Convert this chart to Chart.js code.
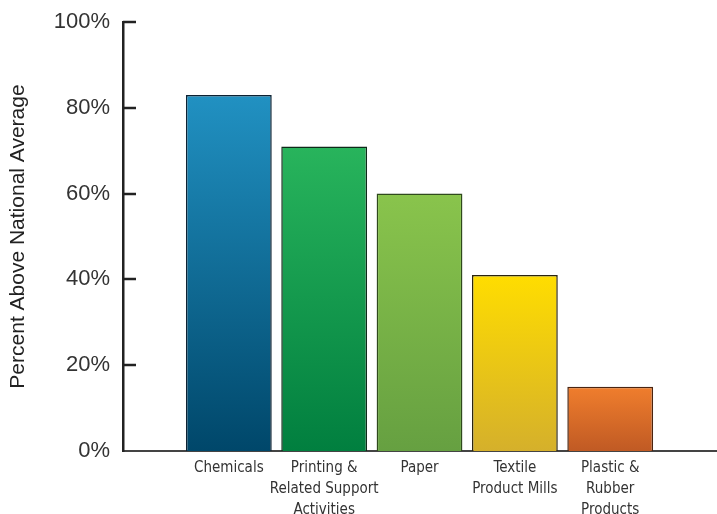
<!DOCTYPE html>
<html>
<head>
<meta charset="utf-8">
<script src="https://cdn.jsdelivr.net/npm/chart.js@4/dist/chart.umd.min.js"></script>
<style>
  html, body { margin: 0; padding: 0; background: #fff; }
  #wrap { width: 717px; height: 514px; }
</style>
</head>
<body>
<div id="wrap"><canvas id="chart" width="717" height="514"></canvas></div>
<script>
// Industries and their percentage above the national average
const categories = [
  ['Chemicals'],
  ['Printing &', 'Related Support', 'Activities'],
  ['Paper'],
  ['Textile', 'Product Mills'],
  ['Plastic &', 'Rubber', 'Products']
];
const values = [83, 71, 60, 41, 15];
const yTickValues = [0, 20, 40, 60, 80, 100];
const yTitle = 'Percent Above National Average';

// Top and bottom colour of each bar's vertical gradient
const topColors = ['#2191c2', '#28b45c', '#89c44c', '#ffdd00', '#f07e2d'];
const bottomColors = ['#00476a', '#017f3f', '#66a041', '#d5b02b', '#c05a24'];
const edgeColors = ['#0d2233', '#0d2a18', '#2f4a1c', '#2a2410', '#4a2410'];

function barGradient(context) {
  const chart = context.chart;
  const i = context.dataIndex;
  if (!chart.chartArea || i === undefined) return topColors[i || 0];
  const y = chart.scales.y;
  const top = y.getPixelForValue(values[i]);
  const bottom = y.getPixelForValue(0);
  const g = chart.ctx.createLinearGradient(0, top, 0, bottom);
  g.addColorStop(0, topColors[i]);
  g.addColorStop(1, bottomColors[i]);
  return g;
}

// Short tick marks pointing into the plot from the y axis
const innerTicks = {
  id: 'innerTicks',
  afterDatasetsDraw(chart) {
    const { ctx, chartArea, scales } = chart;
    ctx.save();
    ctx.strokeStyle = '#222';
    ctx.lineWidth = 2.5;
    scales.y.ticks.forEach(t => {
      if (t.value === 0) return;
      const py = Math.round(scales.y.getPixelForValue(t.value));
      ctx.beginPath();
      ctx.moveTo(chartArea.left, py);
      ctx.lineTo(chartArea.left + 13, py);
      ctx.stroke();
    });
    ctx.restore();
  }
};

new Chart(document.getElementById('chart'), {
  type: 'bar',
  data: {
    datasets: [{
      data: values.map((v, i) => ({ x: i + 1, y: v })),
      backgroundColor: barGradient,
      borderColor: (c) => edgeColors[c.dataIndex] || '#111',
      borderWidth: 1.5,
      borderSkipped: 'bottom',
      categoryPercentage: 1,
      barPercentage: 0.9
    }]
  },
  options: {
    responsive: false,
    animation: false,
    layout: { padding: { top: 22, right: 0, left: 0, bottom: 0 } },
    plugins: { legend: { display: false }, tooltip: { enabled: false } },
    scales: {
      x: {
        type: 'linear',
        offset: false,
        min: -0.11,
        max: 6.12,
        afterBuildTicks(scale) {
          scale.ticks = categories.map((_, i) => ({ value: i + 1 }));
        },
        afterFit(scale) { scale.height = 63; },
        grid: { display: false, drawTicks: false },
        border: { display: true, color: '#444', width: 2 },
        ticks: {
          autoSkip: false,
          maxRotation: 0,
          padding: 7,
          color: '#333',
          font: { family: "'Liberation Sans Narrow', 'DejaVu Sans Condensed', 'Liberation Sans', sans-serif", size: 15, lineHeight: 1.4 },
          callback: (v) => categories[v - 1] || ''
        }
      },
      y: {
        min: 0,
        max: 100,
        afterBuildTicks(scale) {
          scale.ticks = yTickValues.map(v => ({ value: v }));
        },
        afterFit(scale) {
          scale.width = 123;
          scale.paddingTop = 0;
          scale.paddingBottom = 0;
        },
        grid: { display: false, drawTicks: false },
        border: { display: true, color: '#222', width: 2.5 },
        ticks: {
          padding: 13,
          color: '#333',
          font: { family: "'Liberation Sans', sans-serif", size: 22 },
          callback: (v) => v + '%'
        },
        title: {
          display: true,
          text: yTitle,
          color: '#222',
          padding: { top: 6, bottom: 0 },
          font: { family: "'Liberation Sans', sans-serif", size: 21 }
        }
      }
    }
  },
  plugins: [innerTicks]
});
</script>
</body>
</html>
